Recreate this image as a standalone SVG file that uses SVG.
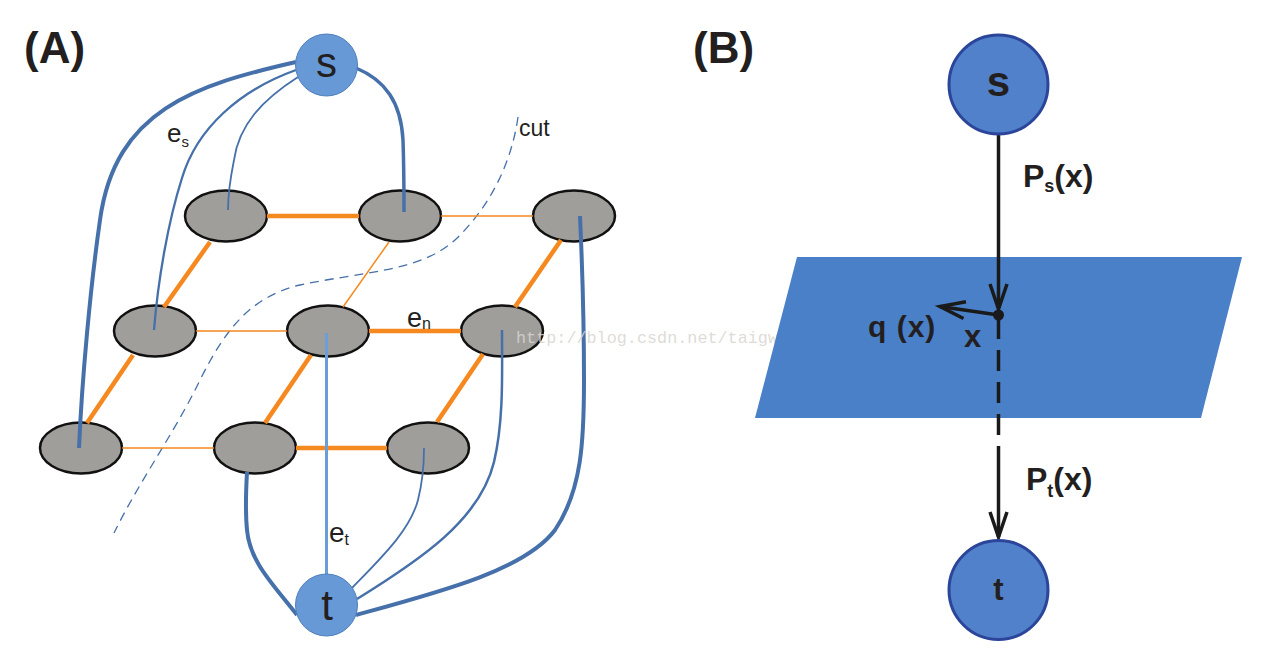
<svg xmlns="http://www.w3.org/2000/svg" width="1272" height="654" viewBox="0 0 1272 654">
  <defs>
    <style>
      .lbl { font-family: "Liberation Sans", Arial, sans-serif; fill: #231f20; }
      .bold { font-weight: bold; }
      .gnode { fill: #a09e9b; stroke: #111; stroke-width: 2.5; }
      .term { fill: #6699d6; stroke: #4f7fbd; stroke-width: 1; }
      .termB { fill: #5181ca; stroke: #2b459a; stroke-width: 3; }
      .og { stroke: #f5891f; fill: none; }
      .thick { stroke-width: 4.5; }
      .thin { stroke-width: 1.5; }
      .bl { stroke: #4670aa; fill: none; stroke-linecap: butt; }
      .blk { stroke: #1a1a1a; fill: none; stroke-width: 3.5; }
    </style>
    <marker id="vhead" markerUnits="userSpaceOnUse" markerWidth="34" markerHeight="26" viewBox="-30 -13 34 26" refX="0" refY="0" orient="auto" overflow="visible">
      <path d="M-25,-8.5 L0,0 L-25,8.5" fill="none" stroke="#1a1a1a" stroke-width="3.5" stroke-linejoin="miter"/>
    </marker>
  </defs>
  <rect width="1272" height="654" fill="#ffffff"/>

  <!-- Panel A -->
  <text class="lbl bold" x="24" y="63" font-size="44">(A)</text>

  <g id="n-r1c1"><ellipse class="gnode" cx="226" cy="216" rx="41" ry="25.5"/></g>
  <g id="n-r1c2"><ellipse class="gnode" cx="400" cy="216" rx="41" ry="25.5"/></g>
  <g id="n-r1c3"><ellipse class="gnode" cx="574" cy="216" rx="41" ry="25.5"/></g>
  <g id="n-r2c1"><ellipse class="gnode" cx="155" cy="331" rx="41" ry="25.5"/></g>
  <g id="n-r2c2"><ellipse class="gnode" cx="328" cy="331" rx="41" ry="25.5"/></g>
  <g id="n-r2c3"><ellipse class="gnode" cx="502" cy="331" rx="41" ry="25.5"/></g>
  <g id="n-r3c1"><ellipse class="gnode" cx="81" cy="448" rx="41" ry="25.5"/></g>
  <g id="n-r3c2"><ellipse class="gnode" cx="255" cy="448" rx="41" ry="25.5"/></g>
  <g id="n-r3c3"><ellipse class="gnode" cx="428" cy="448" rx="41" ry="25.5"/></g>

  <g id="connectors-A">
    <!-- cut line -->
    <path d="M518,117 C512,160 492,205 455,240 C420,272 360,272 300,285 C250,297 225,330 200,380 C175,432 140,480 114,533" fill="none" stroke="#4670aa" stroke-width="1.3" stroke-dasharray="9 6"/>
    <!-- grid edges -->
    <line class="og thick" x1="267" y1="216" x2="359" y2="216"/>
    <line class="og thin" x1="441" y1="216" x2="533" y2="216"/>
    <line class="og thin" x1="196" y1="331" x2="287" y2="331"/>
    <line class="og thick" x1="369" y1="331" x2="461" y2="331"/>
    <line class="og thin" x1="122" y1="448" x2="214" y2="448"/>
    <line class="og thick" x1="296" y1="448" x2="387" y2="448"/>
    <line class="og thick" x1="210" y1="242" x2="164" y2="307"/>
    <line class="og thin" x1="389" y1="242" x2="343" y2="307"/>
    <line class="og thick" x1="561" y1="240" x2="515" y2="307"/>
    <line class="og thick" x1="133" y1="355" x2="87" y2="423"/>
    <line class="og thick" x1="311" y1="355" x2="265" y2="423"/>
    <line class="og thick" x1="483" y1="354" x2="437" y2="422"/>
    <!-- terminal edges from s -->
    <path class="bl" stroke-width="4" d="M296,62 C195,85 115,110 100,220 C90,290 82,380 79,448"/>
    <path class="bl" stroke-width="2.3" d="M296,70 C240,90 197,128 182,178 C168,222 158,280 154,330"/>
    <path class="bl" stroke-width="1.8" d="M298,77 C262,100 239,125 234,160 C229,185 228,200 228,210"/>
    <path class="bl" stroke-width="3.5" d="M356,68 C385,80 401,102 403,140 C404,170 404,195 404,212"/>
    <!-- terminal edges to t -->
    <path class="bl" stroke-width="4" d="M297,615 C272,583 250,562 247,530 C245,510 246,490 247,472"/>
    <line x1="326.5" y1="576" x2="326.5" y2="333" stroke="#6a9ed8" stroke-width="3"/>
    <path class="bl" stroke-width="1.8" d="M352,588 C383,556 410,530 418,500 C423,480 424,462 424,448"/>
    <path class="bl" stroke-width="2.5" d="M357,599 C420,560 480,520 494,462 C504,420 502,370 502,330"/>
    <path class="bl" stroke-width="4" d="M356,615 C440,592 525,570 555,530 C582,490 584,440 584,380 C584,320 582,260 580,216"/>
  </g>

  <g id="node-s-A">
    <circle class="term" cx="326.5" cy="65" r="31"/>
    <text class="lbl" x="326.5" y="77" font-size="42" text-anchor="middle">s</text>
  </g>
  <g id="node-t-A">
    <circle class="term" cx="326.5" cy="605" r="31"/>
    <text class="lbl" x="327" y="620" font-size="42" text-anchor="middle">t</text>
  </g>

  <g id="labels-A">
    <text class="lbl" x="519" y="136" font-size="23">cut</text>
    <text class="lbl" x="167" y="142" font-size="26">e<tspan font-size="15" dy="5">s</tspan></text>
    <text class="lbl" x="407" y="327" font-size="27">e<tspan font-size="16" dy="2">n</tspan></text>
    <text class="lbl" x="329" y="542" font-size="28">e<tspan font-size="16" dy="3">t</tspan></text>
  </g>

  <!-- watermark -->
  <text x="516" y="343" font-family="Liberation Mono, monospace" font-size="17" fill="#d8d5d0" fill-opacity="0.85" textLength="262" lengthAdjust="spacingAndGlyphs">http://blog.csdn.net/taigw</text>

  <!-- Panel B -->
  <text class="lbl bold" x="693" y="63" font-size="44">(B)</text>

  <g id="plane">
    <polygon points="797,257 1242,257 1201,418 755,418" fill="#4a80c8"/>
  </g>

  <g id="connectors-B">
    <line class="blk" x1="998.5" y1="135" x2="998.5" y2="309" marker-end="url(#vhead)"/>
    <line class="blk" x1="998.5" y1="315" x2="940" y2="306.5" marker-end="url(#vhead)"/>
    <line class="blk" x1="998.5" y1="318" x2="998.5" y2="447" stroke-dasharray="21 11"/>
    <line class="blk" x1="998.5" y1="447" x2="998.5" y2="537" marker-end="url(#vhead)"/>
    <circle cx="998.5" cy="315" r="5.5" fill="#1a1a1a"/>
  </g>

  <g id="node-s-B">
    <circle class="termB" cx="998.5" cy="84.5" r="49.5"/>
    <text class="lbl bold" x="998.5" y="96" font-size="42" text-anchor="middle">s</text>
  </g>
  <g id="node-t-B">
    <circle class="termB" cx="998.5" cy="590" r="49.5"/>
    <text class="lbl bold" x="998.5" y="600" font-size="31" text-anchor="middle">t</text>
  </g>

  <g id="labels-B">
    <text class="lbl bold" x="1023" y="187" font-size="32">P<tspan font-size="18" dy="5">s</tspan><tspan dy="-5">(x)</tspan></text>
    <text class="lbl bold" x="1026" y="490" font-size="32">P<tspan font-size="18" dy="7">t</tspan><tspan dy="-7">(x)</tspan></text>
    <text class="lbl bold" x="868" y="337" font-size="30" letter-spacing="1">q (x)</text>
    <text class="lbl bold" x="964" y="347" font-size="31">x</text>
  </g>
</svg>
